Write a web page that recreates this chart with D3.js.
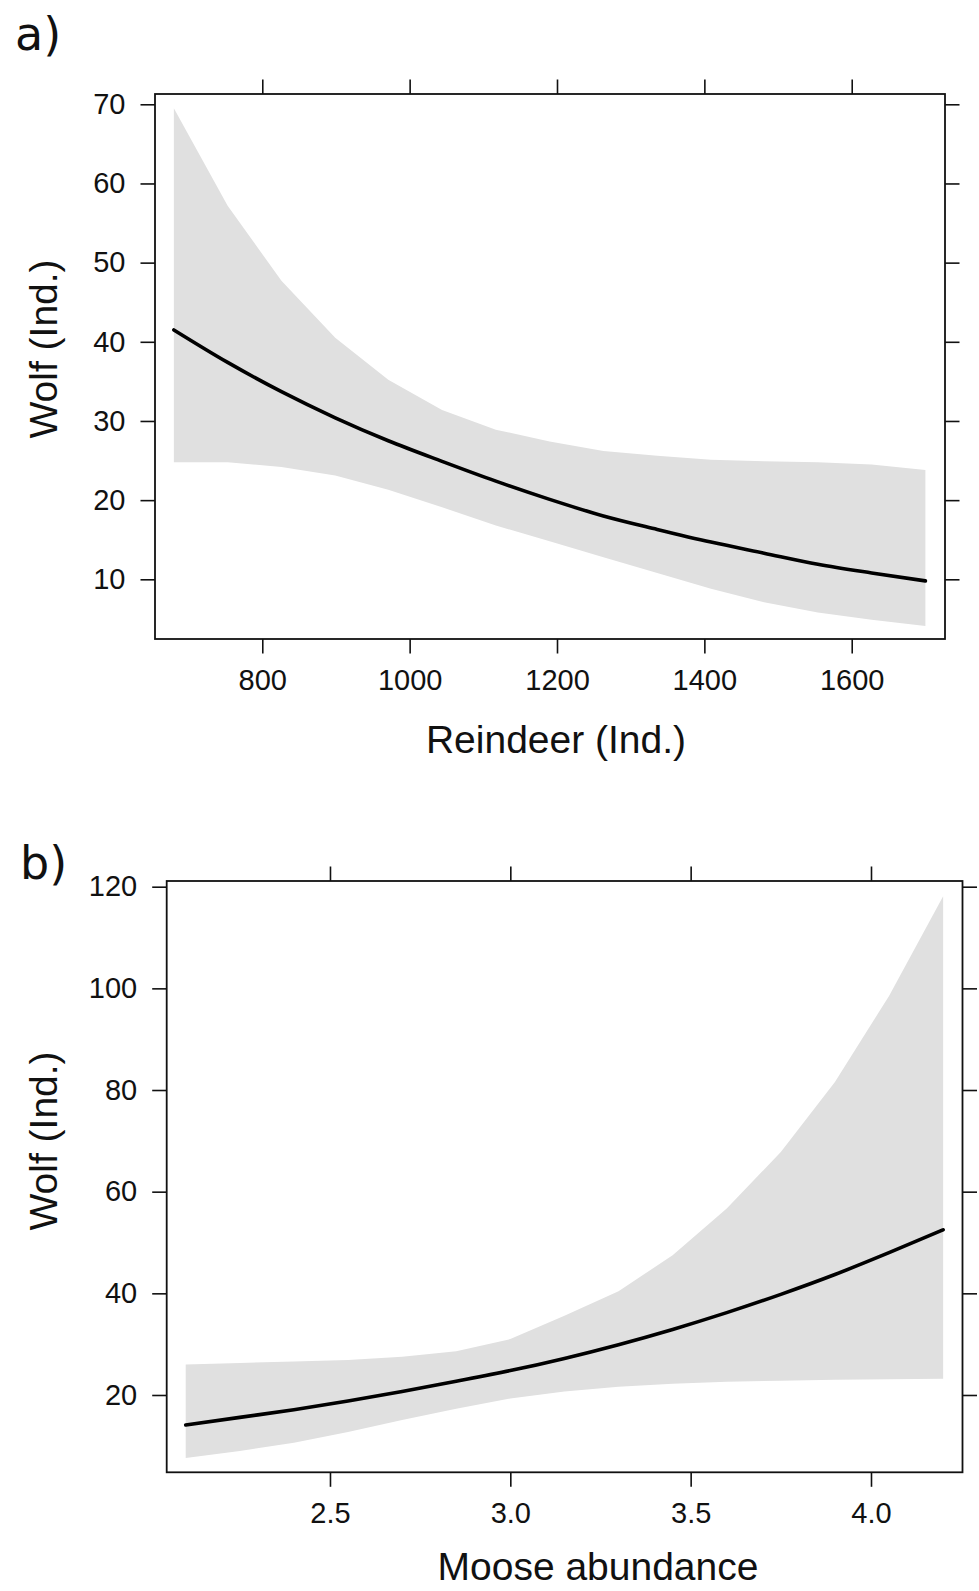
<!DOCTYPE html>
<html>
<head>
<meta charset="utf-8">
<script src="https://cdn.jsdelivr.net/npm/d3@7"></script>
<style>
  html, body { margin: 0; padding: 0; background: #fff; }
  svg text { font-family: "Liberation Sans", Arial, sans-serif; fill: #111; }
</style>
</head>
<body>
<svg id="chart" width="979" height="1591"></svg>
<script>
// ---------- Panel a: Reindeer ----------
const reindeerX     = [680, 753, 826, 899, 971, 1044, 1117, 1190, 1263, 1336, 1409, 1481, 1554, 1627, 1700];
const reindeerFit   = [41.5, 37.4, 33.7, 30.4, 27.5, 24.9, 22.4, 20.1, 18.0, 16.3, 14.7, 13.3, 11.9, 10.8, 9.8];
const reindeerUpper = [69.5, 57.2, 47.7, 40.5, 35.2, 31.4, 28.9, 27.4, 26.2, 25.6, 25.1, 24.9, 24.8, 24.5, 23.8];
const reindeerLower = [24.8, 24.8, 24.2, 23.1, 21.3, 19.1, 16.8, 14.8, 12.8, 10.8, 8.8, 7.1, 5.8, 4.9, 4.1];
const reindeerXTicks = [800, 1000, 1200, 1400, 1600];
const reindeerYTicks = [10, 20, 30, 40, 50, 60, 70];

// ---------- Panel b: Moose ----------
const mooseX     = [2.1, 2.25, 2.4, 2.55, 2.7, 2.85, 3.0, 3.15, 3.3, 3.45, 3.6, 3.75, 3.9, 4.05, 4.2];
const mooseFit   = [14.1, 15.6, 17.1, 18.8, 20.7, 22.7, 24.8, 27.2, 29.9, 32.9, 36.2, 39.8, 43.7, 48.0, 52.5];
const mooseUpper = [26.0, 26.3, 26.6, 26.9, 27.5, 28.6, 31.0, 35.6, 40.4, 47.5, 56.7, 67.8, 81.6, 98.5, 118.1];
const mooseLower = [7.6, 9.0, 10.6, 12.7, 15.1, 17.3, 19.3, 20.7, 21.6, 22.2, 22.6, 22.8, 23.0, 23.1, 23.2];
const mooseXTicks = [2.5, 3.0, 3.5, 4.0];
const mooseYTicks = [20, 40, 60, 80, 100, 120];

const svg = d3.select("#chart");

function panel(cfg) {
  const x = d3.scaleLinear().domain(cfg.xDomain).range([cfg.left, cfg.right]);
  const y = d3.scaleLinear().domain(cfg.yDomain).range([cfg.bottom, cfg.top]);
  const g = svg.append("g");
  const rows = cfg.xs.map((v, i) => ({x: v, fit: cfg.fit[i], lo: cfg.lower[i], hi: cfg.upper[i]}));

  g.append("path")
    .datum(rows)
    .attr("fill", "#e0e0e0")
    .attr("d", d3.area().x(d => x(d.x)).y0(d => y(d.lo)).y1(d => y(d.hi)).curve(d3.curveLinear));

  g.append("path")
    .datum(rows)
    .attr("fill", "none")
    .attr("stroke", "#000")
    .attr("stroke-width", 3.6)
    .attr("stroke-linecap", "round")
    .attr("d", d3.line().x(d => x(d.x)).y(d => y(d.fit)).curve(d3.curveMonotoneX));

  const tickLen = 14.5, fs = 29;
  const styleAxis = sel => {
    sel.select(".domain").remove();
    sel.selectAll(".tick line").attr("stroke", "#111").attr("stroke-width", 1.6);
    sel.selectAll(".tick text").attr("font-size", fs).attr("font-family", "Liberation Sans, Arial, sans-serif").attr("fill", "#111");
  };
  g.append("g").attr("transform", `translate(0,${cfg.bottom})`)
    .call(d3.axisBottom(x).tickValues(cfg.xTicks).tickSize(tickLen).tickPadding(16).tickFormat(cfg.xFmt))
    .call(styleAxis);
  g.append("g").attr("transform", `translate(0,${cfg.top})`)
    .call(d3.axisTop(x).tickValues(cfg.xTicks).tickSize(tickLen).tickFormat(""))
    .call(styleAxis);
  g.append("g").attr("transform", `translate(${cfg.left},0)`)
    .call(d3.axisLeft(y).tickValues(cfg.yTicks).tickSize(tickLen).tickPadding(15).tickFormat(d3.format("d")))
    .call(styleAxis);
  g.append("g").attr("transform", `translate(${cfg.right},0)`)
    .call(d3.axisRight(y).tickValues(cfg.yTicks).tickSize(tickLen).tickFormat(""))
    .call(styleAxis);

  g.append("rect")
    .attr("x", cfg.left).attr("y", cfg.top)
    .attr("width", cfg.right - cfg.left).attr("height", cfg.bottom - cfg.top)
    .attr("fill", "none").attr("stroke", "#111").attr("stroke-width", 1.8);

  g.append("text")
    .attr("x", cfg.xTitleX).attr("y", cfg.xTitleY)
    .attr("text-anchor", "middle").attr("font-size", 39)
    .text(cfg.xTitle);
  g.append("text")
    .attr("transform", `translate(${cfg.yTitleX},${cfg.yTitleY}) rotate(-90)`)
    .attr("text-anchor", "middle").attr("font-size", 39)
    .text("Wolf (Ind.)");
  g.append("text")
    .attr("x", cfg.labX).attr("y", cfg.labY)
    .attr("font-size", 46)
    .style("font-family", "'DejaVu Sans', sans-serif")
    .text(cfg.label);
}

panel({
  xs: reindeerX, fit: reindeerFit, upper: reindeerUpper, lower: reindeerLower,
  xTicks: reindeerXTicks, yTicks: reindeerYTicks, xFmt: d3.format("d"),
  xDomain: [654.4, 1726.6], yDomain: [2.46, 71.3],
  left: 155, right: 945, top: 94, bottom: 639,
  xTitle: "Reindeer (Ind.)", xTitleX: 556, xTitleY: 753,
  yTitleX: 57, yTitleY: 349,
  label: "a)", labX: 15, labY: 50
});

panel({
  xs: mooseX, fit: mooseFit, upper: mooseUpper, lower: mooseLower,
  xTicks: mooseXTicks, yTicks: mooseYTicks, xFmt: d3.format(".1f"),
  xDomain: [2.0473, 4.2537], yDomain: [4.79, 121.12],
  left: 166.7, right: 962.5, top: 881, bottom: 1472.3,
  xTitle: "Moose abundance", xTitleX: 598, xTitleY: 1580,
  yTitleX: 57, yTitleY: 1141,
  label: "b)", labX: 20, labY: 879
});
</script>
</body>
</html>
